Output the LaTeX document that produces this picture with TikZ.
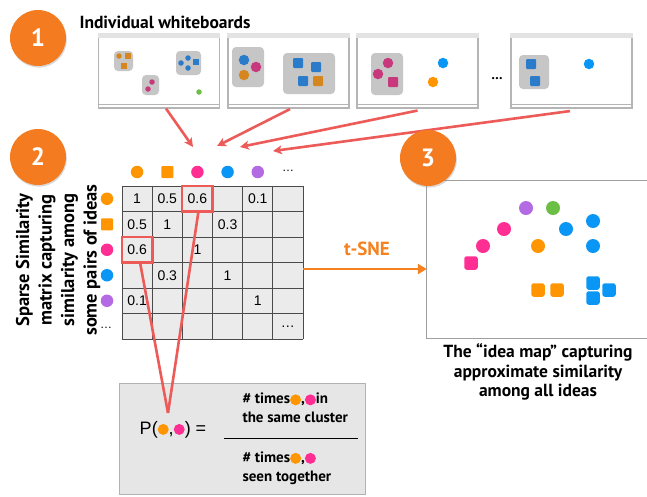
\documentclass[tikz,border=0pt]{standalone}
\usepackage{fontspec}
\setmainfont{PT Sans}
\newfontfamily\numfont{Liberation Sans}
\usetikzlibrary{positioning,calc,arrows.meta,shadows}

\definecolor{stepor}{HTML}{F47B20}
\definecolor{linkred}{HTML}{EC5B57}
\definecolor{tsneor}{HTML}{F5821F}
\definecolor{ideaor}{HTML}{FF9500}
\definecolor{ideapk}{HTML}{FF2E93}
\definecolor{ideabl}{HTML}{0A96F5}
\definecolor{ideapu}{HTML}{B36AE2}
\definecolor{ideagr}{HTML}{6CBE45}
\definecolor{wbor}{HTML}{D5861F}
\definecolor{wbbl}{HTML}{2B7BCB}
\definecolor{wbpk}{HTML}{C8387D}
\definecolor{cellgray}{HTML}{EBEBEB}
\definecolor{gridgray}{HTML}{4A4A4A}
\definecolor{boardgray}{HTML}{B5B5B5}
\definecolor{groupgray}{HTML}{C6C6C6}
\definecolor{boxgray}{HTML}{E6E6E6}

\newcommand{\ideadot}[1]{\tikz[baseline=-0.55ex]\fill[#1] (0,0) circle (5.5pt);}

\tikzset{
  stepbadge/.style={circle, fill=stepor, minimum size=56pt, inner sep=0pt, text=white,
    font=\fontsize{25}{25}\selectfont\bfseries,
    drop shadow={opacity=0.3, shadow xshift=0.8pt, shadow yshift=-1.6pt}},
  board/.style={draw=boardgray, fill=white, line width=1.1pt, minimum width=121pt,
    minimum height=74pt, inner sep=0pt},
  grp/.style={fill=groupgray, rounded corners=4pt},
  wbdot/.style={circle, fill=#1, minimum size=5.5pt, inner sep=0pt},
  wbsq/.style={fill=#1, minimum size=5.5pt, inner sep=0pt},
  wbbig/.style={circle, fill=#1, minimum size=10.5pt, inner sep=0pt},
  wbbigsq/.style={fill=#1, minimum size=10pt, inner sep=0pt, rounded corners=1pt},
  hdot/.style={circle, fill=#1, minimum size=12.5pt, inner sep=0pt},
  hsq/.style={fill=#1, minimum size=12pt, inner sep=0pt, rounded corners=1pt},
  mdot/.style={circle, fill=#1, minimum size=14pt, inner sep=0pt},
  msq/.style={fill=#1, minimum size=13.5pt, inner sep=0pt, rounded corners=2.5pt},
  cell/.style={minimum width=30.17pt, minimum height=25.5pt, inner sep=0pt,
    font=\numfont\fontsize{14}{14}\selectfont},
  hilite/.style={draw=linkred, line width=2.6pt},
  feed/.style={linkred, line width=2.6pt, -{Stealth[length=9pt,width=9pt,inset=2.5pt]}},
  hiline/.style={linkred, line width=2.6pt},
  tsnearrow/.style={tsneor, line width=2.6pt, -{Triangle[length=9pt,width=10pt]}},
  headtext/.style={font=\fontsize{17.5}{17.5}\selectfont\bfseries},
  captext/.style={align=center, font=\fontsize{17.5}{19.5}\selectfont\bfseries},
  fractext/.style={anchor=west, align=left, font=\fontsize{15}{18.5}\selectfont\bfseries},
}

\begin{document}
\begin{tikzpicture}[x=1pt, y=-1pt]
  \useasboundingbox (0,0) rectangle (647,496);
  \clip (0,0) rectangle (647,496);

  % Step 1: individual whiteboards
  \node[stepbadge] (s1) at (38,38) {1};
  \node[headtext, anchor=west] (wbtitle) at (76,22) {Individual whiteboards};

  \foreach \n/\cx in {1/159, 2/288.5, 3/417.5, 4/571.5} {
    \node[board] (wb\n) at (\cx,71) {};
    \fill[gray!22] (wb\n.north west) rectangle ($(wb\n.north east)+(0,5)$);
    \draw[boardgray, line width=1.1pt] ($(wb\n.south west)+(0,-4)$) -- ($(wb\n.south east)+(0,-4)$);
  }
  \node (wbdots) at (497,79) {\fontsize{14}{14}\selectfont\bfseries\dots};

  % groups on the boards
  \foreach \xa/\ya/\xb/\yb in {114/51/133/71, 176/51/201/75, 142/75/159/95, 232/47/264/87,
                                283/53/335/94, 371/53/403/95, 519/55/549/89}
    \fill[grp] (\xa,\ya) rectangle (\xb,\yb);

  % ideas on board 1
  \foreach \x/\y/\col [count=\i] in {119/56/wbor, 181/63/wbbl, 188/58/wbbl, 188/68/wbbl,
                                      152/82/wbpk, 148/89/wbpk, 199/92/ideagr}
    \node[wbdot=\col] (ba\i) at (\x,\y) {};
  \foreach \x/\y/\col [count=\i] in {128/56/wbor, 124/66/wbor, 196/62/wbbl}
    \node[wbsq=\col] (bb\i) at (\x,\y) {};

  % ideas on boards 2-4
  \foreach \x/\y/\col [count=\i] in {244/60/wbbl, 256/67/wbpk, 244/75/wbor,
                                      388/63/wbpk, 378/74/wbpk, 443/63/ideabl, 433/82/ideaor,
                                      589/64/ideabl}
    \node[wbbig=\col] (bc\i) at (\x,\y) {};
  \foreach \x/\y/\col [count=\i] in {298/63/wbbl, 316/67/wbbl, 303/81/wbbl, 318/81/wbor,
                                      393/82/wbpk, 531/64/wbbl, 535/81/wbbl}
    \node[wbbigsq=\col] (bd\i) at (\x,\y) {};

  % Step 2: sparse similarity matrix
  \node[stepbadge] (s2) at (38,157) {2};
  \node[rotate=90, captext, font=\fontsize{18.5}{22.5}\selectfont\bfseries] (simtext) at (58,260)
    {Sparse Similarity\\matrix capturing\\similarity among\\some pairs of ideas};

  \node[fill=cellgray, minimum width=181pt, minimum height=153pt, inner sep=0pt] (grid) at (212.5,262.5) {};
  \foreach \i in {0,...,6} {
    \draw[gridgray, line width=0.8pt] ({122+\i*30.17},186) -- ({122+\i*30.17},339);
    \draw[gridgray, line width=0.8pt] (122,{186+\i*25.5}) -- (303,{186+\i*25.5});
  }
  \foreach \r/\c/\v in {1/1/1, 1/2/0.5, 1/3/0.6, 1/5/0.1, 2/1/0.5, 2/2/1, 2/4/0.3, 3/1/0.6,
                        3/3/1, 4/2/0.3, 4/4/1, 5/1/0.1, 5/5/1, 6/6/\dots}
    \node[cell] (c\r\c) at ({122+(\c-0.5)*30.17},{186+(\r-0.5)*25.5}) {\v};

  % headers
  \foreach \k/\s/\col in {1/hdot/ideaor, 2/hsq/ideaor, 3/hdot/ideapk, 4/hdot/ideabl, 5/hdot/ideapu} {
    \node[\s=\col] (col\k) at ({122+(\k-0.5)*30.17},172) {};
    \node[\s=\col] (row\k) at (107,{186+(\k-0.5)*25.5}) {};
  }
  \node[font=\numfont\fontsize{12}{12}\selectfont] (col6) at (288,171) {\dots};
  \node[font=\numfont\fontsize{12}{12}\selectfont] (row6) at (106,328) {\dots};

  % whiteboards feed the matrix
  \coordinate (t1) at (193,147);
  \coordinate (t2) at (217,146);
  \coordinate (t3) at (240,147);
  \coordinate (t4) at (273,151);
  \draw[feed] ([xshift=7pt]wb1.south) -- (t1);
  \draw[feed] ([xshift=1.5pt,yshift=-0.5pt]wb2.south) -- (t2);
  \draw[feed] ([yshift=-2pt]wb3.south) -- (t3);
  \draw[feed] ([xshift=-1.5pt,yshift=-2.5pt]wb4.south) -- (t4);

  % probability box
  \node[fill=boxgray, draw=gray!60, minimum width=246pt, minimum height=111pt, inner sep=0pt] (form) at (242,438.5) {};
  \node[font=\numfont\fontsize{18}{18}\selectfont] (pexpr) at (173,430)
    {P(\ideadot{ideaor},\ideadot{ideapk}) =};
  \node[fractext] (num) at (239,408)
    {\# times\ideadot{ideaor},\ideadot{ideapk}in\\the same cluster};
  \draw[black, line width=0.9pt] (224,438) -- (358,438);
  \node[fractext] (den) at (239,468)
    {\# times\ideadot{ideaor},\ideadot{ideapk}\\seen together};

  % highlighted pair
  \draw[hilite] (c13.north west) rectangle (c13.south east);
  \draw[hilite] (c31.north west) rectangle (c31.south east);
  \coordinate (pq) at (168,413);
  \draw[hiline] ([xshift=3pt]c31.south) -- (pq);
  \draw[hiline] ([xshift=1pt]c13.south) -- (pq);

  % Step 3: idea map
  \node[minimum width=240pt, minimum height=157pt, inner sep=0pt] (map) at (547,259.5) {};
  \draw[gray!75, line width=1pt] (map.north east) -- (map.north west) -- (map.south west) -- (map.south east);
  \node[stepbadge] (s3) at (428,158) {3};

  \draw[tsnearrow] ([yshift=-6.5pt]grid.east) -- ([yshift=-9.5pt]map.west);
  \node[font=\fontsize{19}{19}\selectfont\bfseries, text=tsneor] (tsnetxt) at (367,249) {t-SNE};

  \foreach \x/\y/\col [count=\i] in {526/208/ideapu, 553/208/ideagr, 504/229/ideapk, 566/229/ideabl,
                                      593/221/ideabl, 483/246/ideapk, 538/246/ideaor, 593/246/ideabl}
    \node[mdot=\col] (md\i) at (\x,\y) {};
  \foreach \x/\y/\col [count=\i] in {471/263/ideapk, 538/290/ideaor, 557/290/ideaor,
                                      593/283/ideabl, 609/290/ideabl, 593/298/ideabl}
    \node[msq=\col] (ms\i) at (\x,\y) {};

  \node[captext] (mapcap) at (538,372)
    {The “idea map” capturing\\approximate similarity\\among all ideas};
\end{tikzpicture}
\end{document}
